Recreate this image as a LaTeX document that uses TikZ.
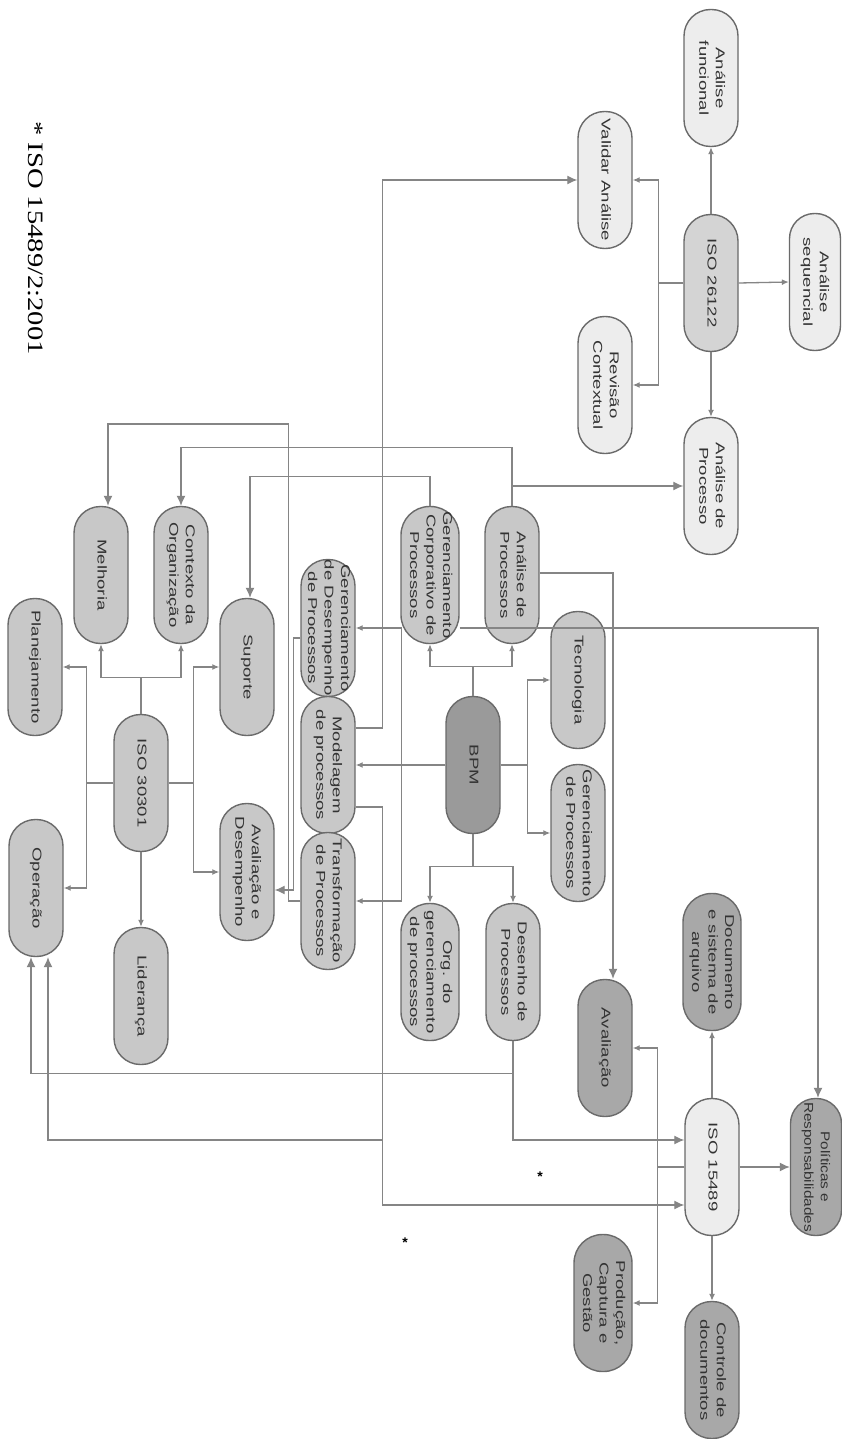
\documentclass[tikz,border=0pt]{standalone}
\usepackage{fontspec}
\setmainfont{Liberation Serif}
\setsansfont{Liberation Sans}
\usetikzlibrary{arrows.meta}
\definecolor{lightf}{HTML}{EDEDED}
\definecolor{isof}{HTML}{D4D4D4}
\definecolor{midf}{HTML}{C8C8C8}
\definecolor{darkf}{HTML}{A8A8A8}
\definecolor{bpmf}{HTML}{9A9A9A}
\definecolor{bordc}{HTML}{6A6A6A}
\definecolor{linec}{HTML}{858585}
\definecolor{txtc}{HTML}{333333}
\newcommand\nt[2][1.45]{\rotatebox{-90}{\scalebox{#1}[1]{\begin{tabular}{@{}c@{}}#2\end{tabular}}}}
\begin{document}
\begin{tikzpicture}[x=1pt,y=-1pt,
  pill/.style={draw=bordc, line width=1.4pt, minimum width=54pt, minimum height=137pt,
    rounded corners=26.5pt, inner sep=0pt, text=txtc, font=\sffamily\fontsize{12.8}{16.5}\selectfont},
  wide/.style={pill, minimum width=58pt, rounded corners=28.5pt},
  narrow/.style={pill, minimum width=51pt, rounded corners=25pt},
  link/.style={draw=linec, line width=1.3pt},
  sarr/.style={link, -{Latex[length=7pt,width=6pt]}},
  barr/.style={link, -{Latex[length=10pt,width=9pt]}}]
\useasboundingbox (0,0) rectangle (841,1439);
\fill[white] (0,0) rectangle (841,1439);

% ISO 26122 group
\node[pill, fill=lightf] (af) at (711,78) {\nt{Análise\\funcional}};
\node[pill, fill=isof] (i26) at (711,283) {\nt{ISO 26122}};
\node[narrow, fill=lightf] (as) at (815,282) {\nt{Análise\\sequencial}};
\node[pill, fill=lightf] (va) at (605,180) {\nt{Validar Análise}};
\node[pill, fill=lightf] (rc) at (605,385) {\nt{Revisão\\Contextual}};
\node[pill, fill=lightf] (ap) at (711,486) {\nt{Análise de\\Processo}};

% BPM group
\node[pill, fill=bpmf] (bpm) at (473,765) {\nt{BPM}};
\node[pill, fill=midf] (adp) at (512,575) {\nt{Análise de\\Processos}};
\node[wide, fill=midf] (gcp) at (430,575) {\nt{Gerenciamento\\Corporativo de\\Processos}};
\node[pill, fill=midf] (tec) at (578,680) {\nt{Tecnologia}};
\node[pill, fill=midf] (gdp) at (578,833) {\nt{Gerenciamento\\de Processos}};
\node[pill, fill=midf] (gdd) at (328,628) {\nt{Gerenciamento\\de Desempenho\\de Processos}};
\node[pill, fill=midf] (mod) at (328,765) {\nt{Modelagem\\de processos}};
\node[pill, fill=midf] (tra) at (328,901) {\nt{Transformação\\de Processos}};
\node[pill, fill=midf] (des) at (513,972) {\nt{Desenho de\\Processos}};
\node[wide, fill=midf] (org) at (430,972) {\nt{Org. do\\gerenciamento\\de processos}};

% ISO 30301 group
\node[pill, fill=midf] (i303) at (141,783) {\nt{ISO 30301}};
\node[pill, fill=midf] (pla) at (35,667) {\nt{Planejamento}};
\node[pill, fill=midf] (mel) at (101,575) {\nt{Melhoria}};
\node[pill, fill=midf] (ctx) at (181,575) {\nt{Contexto da\\Organização}};
\node[pill, fill=midf] (sup) at (247,667) {\nt{Suporte}};
\node[pill, fill=midf] (avd) at (247,872) {\nt{Avaliação e\\Desempenho}};
\node[pill, fill=midf] (ope) at (36,888) {\nt{Operação}};
\node[pill, fill=midf] (lid) at (141,996) {\nt{Liderança}};

% ISO 15489 group
\node[pill, fill=lightf] (i154) at (712,1167) {\nt{ISO 15489}};
\node[wide, fill=darkf] (doc) at (712,962) {\nt{Documento\\e sistema de\\arquivo}};
\node[pill, fill=darkf] (ava) at (605,1048) {\nt{Avaliação}};
\node[narrow, fill=darkf] (pol) at (816,1167) {\nt[1.2]{Políticas e\\Responsabilidades}};
\node[pill, fill=darkf] (ctl) at (712,1370) {\nt{Controle de\\documentos}};
\node[wide, fill=darkf] (pro) at (603,1303) {\nt{Produção,\\Captura e\\Gestão}};

% footnote and marks
\node[font=\rmfamily\fontsize{22}{26}\selectfont, text=black, inner sep=0pt] (fn) at (36,238)
  {\rotatebox{-90}{\scalebox{1.3}[1]{* ISO 15489/2:2001}}};
\node[font=\sffamily\bfseries\fontsize{14}{14}\selectfont, inner sep=0pt] (m1) at (540,1177) {*};
\node[font=\sffamily\bfseries\fontsize{14}{14}\selectfont, inner sep=0pt] (m2) at (405,1243) {*};

% ISO 26122 connectors
\draw[sarr] (i26.north) -- (af.south);
\draw[sarr] (i26.east) -- (as.west);
\draw[sarr] (i26.south) -- (ap.north);
\draw[sarr] (i26.west) -- ++(-25,0) |- (va.east);
\draw[sarr] (i26.west) -- ++(-25,0) |- (rc.east);

% BPM connectors
\draw[sarr] (bpm.north) -- ++(0,-29) -| (adp.south);
\draw[sarr] (bpm.north) -- ++(0,-29) -| (gcp.south);
\draw[sarr] (bpm.south) -- ++(0,32) -| (des.north);
\draw[sarr] (bpm.south) -- ++(0,32) -| (org.north);
\draw[sarr] (bpm.east) -- ++(27,0) |- (tec.west);
\draw[sarr] (bpm.east) -- ++(27,0) |- (gdp.west);
\draw[sarr] (bpm.west) -- (mod.east);
\draw[sarr] (bpm.west) -- ++(-44,0) |- (gdd.east);
\draw[sarr] (bpm.west) -- ++(-44,0) |- (tra.east);

% ISO 30301 connectors
\draw[sarr] (i303.north) -- ++(0,-36) -| (mel.south);
\draw[sarr] (i303.north) -- ++(0,-36) -| (ctx.south);
\draw[sarr] (i303.west) -- ++(-27,0) |- (pla.east);
\draw[sarr] (i303.west) -- ++(-27,0) |- (ope.east);
\draw[sarr] (i303.east) -- ++(25,0) |- (sup.west);
\draw[sarr] (i303.east) -- ++(25,0) |- (avd.west);
\draw[sarr] (i303.south) -- (lid.north);

% ISO 15489 connectors
\draw[sarr] (i154.north) -- (doc.south);
\draw[barr] (i154.east) -- (pol.west);
\draw[sarr] (i154.south) -- (ctl.north);
\draw[sarr] (i154.west) -- ++(-27,0) |- (ava.east);
\draw[sarr] (i154.west) -- ++(-27,0) |- (pro.east);

% cross connectors
\draw[barr] ([yshift=37pt]mod.east) -- ++(27,0) |- (va.west);
\draw[barr] ([yshift=-42pt]mod.east) -- ++(27,0) |- ([yshift=-38pt]i154.west);
\draw[barr] ([yshift=-42pt]mod.east) -- ++(27,0) -- ++(0,333) -| ([xshift=12pt]ope.south);
\draw[barr] (des.south) |- ([yshift=27pt]i154.west);
\draw[barr] (des.south) -- ++(0,32) -| ([xshift=-5pt]ope.south);
\draw[barr] (adp.north) |- (ap.west);
\draw[barr] (adp.north) -- ++(0,-58) -| (ctx.north);
\draw[barr] ([yshift=2pt]adp.east) -| ([xshift=8pt]ava.north);
\draw[barr] ([yshift=-53pt]gcp.east) -| ([xshift=2pt]pol.north);
\draw[barr] (gcp.north) -- ++(0,-29) -| ([xshift=3pt]sup.north);
\draw[barr] (tra.west) -- ++(-12,0) -- ++(0,-477) -| ([xshift=7pt]mel.north);
\draw[barr] ([yshift=-10pt]gdd.west) -- ++(-7,0) |- ([yshift=-18pt]avd.east);
\end{tikzpicture}
\end{document}
